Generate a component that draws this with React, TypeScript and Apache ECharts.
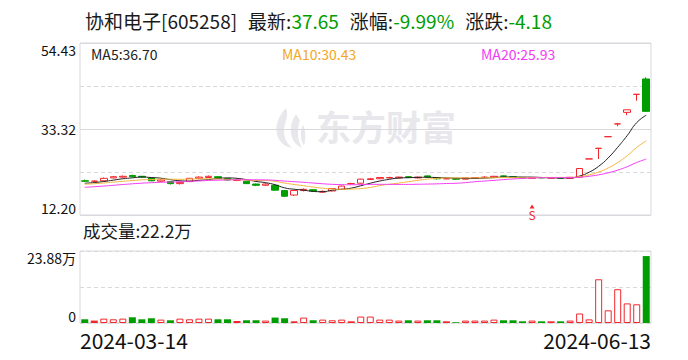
import React, { useEffect, useRef } from "react";
import * as echarts from "echarts";

const dates = [
  "2024-03-14","2024-03-15","2024-03-18","2024-03-19","2024-03-20","2024-03-21","2024-03-22","2024-03-25","2024-03-26","2024-03-27","2024-03-28","2024-03-29",
  "2024-04-01","2024-04-02","2024-04-03","2024-04-08","2024-04-09","2024-04-10","2024-04-11","2024-04-12","2024-04-15","2024-04-16","2024-04-17","2024-04-18","2024-04-19","2024-04-22","2024-04-23","2024-04-24","2024-04-25","2024-04-26","2024-04-29","2024-04-30",
  "2024-05-06","2024-05-07","2024-05-08","2024-05-09","2024-05-10","2024-05-13","2024-05-14","2024-05-15","2024-05-16","2024-05-17","2024-05-20","2024-05-21","2024-05-22","2024-05-23","2024-05-24","2024-05-27","2024-05-28","2024-05-29","2024-05-30","2024-05-31",
  "2024-06-03","2024-06-04","2024-06-05","2024-06-06","2024-06-07","2024-06-11","2024-06-12","2024-06-13",
];

const opens = [
  20.6, 20.5, 20.6, 21.3, 21.5, 21.9, 21.7, 21.3, 20.5, 20.4,
  19.9, 20.4, 21.2, 21.4, 21.6, 21.2, 20.7, 20.5, 19.8, 19.5,
  19.5, 18.2, 17.1, 18.2, 18.4, 17.8, 18.1, 18.5, 19.9, 20.0,
  20.9, 21.1, 21.3, 21.3, 21.6, 21.3, 21.8, 21.4, 21.1, 21.1,
  21.0, 21.3, 21.4, 21.5, 21.8, 21.6, 21.4, 21.2, 21.4, 21.3,
  21.3, 21.2, 21.5, 25.97, 28.57, 31.43, 34.57, 37.4, 41.83, 45.6,
];
const closes = [
  20.5, 20.5, 21.2, 21.6, 21.7, 21.6, 21.5, 20.6, 20.8, 19.9,
  20.2, 21.2, 21.5, 21.7, 21.3, 20.8, 20.7, 19.9, 19.5, 19.8,
  18.3, 16.8, 18.2, 18.5, 18.1, 18.0, 18.7, 19.3, 19.9, 21.0,
  21.1, 21.4, 21.4, 21.5, 21.4, 21.5, 21.5, 21.1, 21.1, 21.0,
  21.3, 21.4, 21.5, 21.7, 21.7, 21.4, 21.3, 21.4, 21.3, 21.3,
  21.18, 21.46, 23.61, 25.97, 28.57, 31.43, 34.57, 38.03, 41.83, 37.65,
];
const lows = [
  20.3, 20.3, 20.5, 21.2, 21.4, 21.5, 21.3, 20.5, 20.3, 19.7,
  19.7, 20.3, 21.0, 21.3, 21.2, 20.7, 20.5, 19.8, 19.3, 19.4,
  18.2, 16.6, 16.9, 18.0, 18.0, 17.7, 18.0, 18.4, 19.6, 19.9,
  20.8, 21.0, 21.2, 21.2, 21.3, 21.2, 21.4, 20.9, 21.0, 20.8,
  20.9, 21.2, 21.3, 21.4, 21.6, 21.3, 21.2, 21.1, 21.2, 21.2,
  21.1, 21.1, 21.4, 25.97, 25.95, 31.43, 34.0, 36.7, 40.26, 37.65,
];
const highs = [
  20.9, 20.7, 21.4, 21.8, 21.9, 22.1, 21.8, 21.4, 21.0, 20.5,
  20.4, 21.3, 21.7, 21.9, 21.7, 21.3, 20.9, 20.6, 19.9, 20.0,
  19.6, 18.3, 18.3, 18.7, 18.5, 18.2, 18.8, 19.4, 20.1, 21.1,
  21.3, 21.5, 21.6, 21.6, 21.7, 21.6, 21.9, 21.5, 21.3, 21.2,
  21.4, 21.5, 21.7, 21.8, 21.9, 21.7, 21.5, 21.5, 21.5, 21.4,
  21.4, 21.5, 23.61, 25.97, 28.57, 31.43, 34.57, 38.03, 41.83, 46.01,
];
// closes of the 19 sessions before the first shown day (for the moving averages)
const priorCloses = [
  17.6, 17.8, 18.0, 17.9, 18.1, 18.3, 18.4, 18.6, 18.7, 19.1,
  19.2, 19.4, 19.5, 19.6, 19.8, 19.7, 19.9, 19.9, 20.0,
];
// volume, in 万 shares
const volumes = [
  1.23, 0.8, 1.45, 1.23, 1.45, 1.9, 1.23, 1.57, 1.12, 0.9,
  1.45, 1.23, 1.45, 1.45, 1.23, 1.23, 0.67, 0.9, 0.9, 0.8,
  1.8, 1.57, 0.56, 1.8, 0.9, 1.12, 0.9, 1.12, 0.56, 2.13,
  2.13, 1.12, 1.12, 0.8, 0.9, 0.8, 0.9, 0.9, 0.56, 0.25,
  0.8, 0.8, 0.8, 1.12, 0.9, 0.9, 0.56, 0.8, 0.56, 0.56,
  0.56, 0.8, 3.15, 1.2, 14.5, 4.2, 11.2, 6.5, 6.2, 22.2,
];
const priceTicks = ["12.20", "33.32", "54.43"];
const priceMin = 12.2;
const priceMax = 54.43;
const volumeMax = 23.88;
const stockName = "协和电子";
const stockCode = "605258";
const latest = "37.65";
const changePct = "-9.99%";
const changeAmt = "-4.18";
const signals = [{ index: 47, label: "S" }];

const RED = "#f2272b";
const GREEN = "#009d00";
const FONT = '"Noto Sans CJK SC", sans-serif';

// watermark logo outline
const LOGO_D =
  "M14 0 C6 8 2 18 6 28 C9 34 14 37 20 38 C12 32 10 22 14 12 C15 8 16 4 14 0 Z " +
  "M24 6 C18 14 17 24 22 32 C24 35 27 37 30 38 C25 30 25 20 28 12 Z " +
  "M31 16 C28 22 28 30 32 36 C34 30 34 22 31 16 Z";
echarts.graphic.registerShape("logo", (echarts.graphic as any).extendPath(LOGO_D, {}));

function movingAverage(n: number): number[] {
  const all = priorCloses.concat(closes);
  const off = priorCloses.length;
  return closes.map((_, i) => {
    let s = 0;
    for (let k = off + i - n + 1; k <= off + i; k++) s += all[k];
    return +(s / n).toFixed(2);
  });
}

export default function App() {
  const ref = useRef<HTMLDivElement>(null);
  useEffect(() => {
    if (!ref.current) return;
    const chart = echarts.init(ref.current, null, { renderer: "svg" });
    const ma5 = movingAverage(5);
    const ma10 = movingAverage(10);
    const ma20 = movingAverage(20);
    const last = closes.length - 1;
    const kData = closes.map((c, i) => [opens[i], c, lows[i], highs[i]]);
    const volData = volumes.map((v, i) => {
      const o = opens[i];
      const c = closes[i];
      const prev = i > 0 ? closes[i - 1] : priorCloses[priorCloses.length - 1];
      let style: any;
      if (c < o) style = { color: GREEN };
      else if (c > o || (c - prev) / prev > 0.05)
        style = { color: "#fff", borderColor: RED, borderWidth: 1 };
      else style = { color: RED };
      return { value: v, itemStyle: style };
    });
    const gridLine = "#d9d9dd";
    const option: any = {
      animation: false,
      backgroundColor: "#fff",
      textStyle: { fontFamily: FONT },
      title: {
        left: 80,
        top: 6,
        text:
          `{k|${stockName}[${stockCode}]}{s| }{k|最新:}{g|${latest}}{s| }{k|涨幅:}{g|${changePct}}{s| }{k|涨跌:}{g|${changeAmt}}`,
        textStyle: {
          fontWeight: "normal",
          rich: {
            k: { fontSize: 19, color: "#1a1a1a", fontFamily: FONT, fontWeight: "normal" },
            g: { fontSize: 19, color: GREEN, fontFamily: FONT, fontWeight: "normal" },
            s: { fontSize: 19, width: 11 },
          },
        },
      },
      grid: [
        { left: 80, right: 37, top: 43, height: 172, show: true, borderColor: gridLine, borderWidth: 1 },
        { left: 80, right: 37, top: 251, height: 72, show: true, borderColor: gridLine, borderWidth: 1 },
      ],
      xAxis: [
        { type: "category", gridIndex: 0, data: dates, boundaryGap: true, show: false },
        { type: "category", gridIndex: 1, data: dates, boundaryGap: true, show: false },
        {
          type: "value", gridIndex: 1, min: 0, max: 1, interval: 1, position: "bottom",
          axisLine: { show: false }, axisTick: { show: false }, splitLine: { show: false },
          axisLabel: {
            fontSize: 21, color: "#111", margin: 6, fontFamily: FONT,
            alignMinLabel: "left", alignMaxLabel: "right",
            formatter: (v: number) => (v === 0 ? dates[0] : dates[dates.length - 1]),
          },
        },
      ],
      yAxis: [
        { type: "value", gridIndex: 0, min: priceMin, max: priceMax, show: false, position: "left", splitLine: { show: false } },
        {
          type: "value", gridIndex: 0, min: 0, max: 4, interval: 1, position: "left",
          axisLine: { show: false }, axisTick: { show: false }, axisLabel: { show: false },
          splitLine: { show: true, lineStyle: { color: gridLine, type: [4, 3], width: 1 } },
        },
        {
          type: "value", gridIndex: 0, min: 0, max: 4, interval: 2, position: "left",
          axisLine: { show: false }, axisTick: { show: false },
          splitLine: { show: true, lineStyle: { color: gridLine, type: "solid", width: 1 } },
          axisLabel: {
            fontSize: 14, color: "#111", margin: 4, fontFamily: FONT,
            verticalAlignMinLabel: "bottom", verticalAlignMaxLabel: "top",
            formatter: (v: number) => priceTicks[Math.round(v / 2)],
          },
        },
        {
          type: "value", gridIndex: 1, min: 0, max: volumeMax, interval: volumeMax / 2, position: "left",
          axisLine: { show: false }, axisTick: { show: false },
          splitLine: { show: true, lineStyle: { color: gridLine, type: [4, 3], width: 1 } },
          axisLabel: {
            fontSize: 14, color: "#111", margin: 4, fontFamily: FONT,
            verticalAlignMinLabel: "bottom", verticalAlignMaxLabel: "top",
            formatter: (v: number) => (v === 0 ? "0" : Math.abs(v - volumeMax) < 1e-6 ? volumeMax.toFixed(2) + "万" : ""),
          },
        },
      ],
      graphic: [
        {
          type: "text", left: 91, top: 47, z: 10,
          style: { text: `MA5:${ma5[last].toFixed(2)}`, fontSize: 14, fill: "#222", fontFamily: FONT },
        },
        {
          type: "text", left: 282, top: 47, z: 10,
          style: { text: `MA10:${ma10[last].toFixed(2)}`, fontSize: 14, fill: "#f5a623", fontFamily: FONT },
        },
        {
          type: "text", left: 481, top: 47, z: 10,
          style: { text: `MA20:${ma20[last].toFixed(2)}`, fontSize: 14, fill: "#f23cf2", fontFamily: FONT },
        },
        {
          type: "text", left: 83, top: 222, z: 10,
          style: { text: `成交量:${volumes[last].toFixed(1)}万`, fontSize: 17.5, fill: "#1a1a1a", fontFamily: FONT },
        },
        {
          type: "logo", x: 272, y: 108, scaleX: 1.0, scaleY: 1.05, z: 0, silent: true,
          style: { fill: "#e8e8ec" },
        },
        {
          type: "text", left: 316, top: 108, z: 0, silent: true,
          style: { text: "东方财富", fontSize: 35, fontWeight: "bold", fill: "#e8e8ec", fontFamily: FONT },
        },
      ],
      series: [
        {
          type: "candlestick",
          xAxisIndex: 0, yAxisIndex: 0,
          data: kData,
          barWidth: 7,
          itemStyle: {
            color: "#fff", color0: GREEN, borderColor: RED, borderColor0: GREEN,
            borderColorDoji: RED, borderWidth: 1,
          },
          markPoint: {
            symbol: "triangle", symbolSize: [5, 4], symbolOffset: [0, 0],
            itemStyle: { color: RED },
            label: { show: true, position: "bottom", distance: 0, color: RED, fontSize: 12, fontFamily: FONT, formatter: (p: any) => p.name },
            data: signals.map((s) => ({ name: s.label, coord: [s.index, 14.3] })),
          },
        },
        { type: "line", name: "MA5", data: ma5, smooth: true, symbol: "none", xAxisIndex: 0, yAxisIndex: 0, lineStyle: { color: "#222", width: 1 } },
        { type: "line", name: "MA10", data: ma10, smooth: true, symbol: "none", xAxisIndex: 0, yAxisIndex: 0, lineStyle: { color: "#f5b53f", width: 1 } },
        { type: "line", name: "MA20", data: ma20, smooth: true, symbol: "none", xAxisIndex: 0, yAxisIndex: 0, lineStyle: { color: "#f23cf2", width: 1 } },
        {
          type: "bar", xAxisIndex: 1, yAxisIndex: 3, data: volData, barWidth: 7,
        },
      ],
    };
    chart.setOption(option);
    return () => chart.dispose();
  }, []);
  return (
    <div
      ref={ref}
      style={{ position: "absolute", left: 0, top: 0, width: 688, height: 360, background: "#fff" }}
    />
  );
}
